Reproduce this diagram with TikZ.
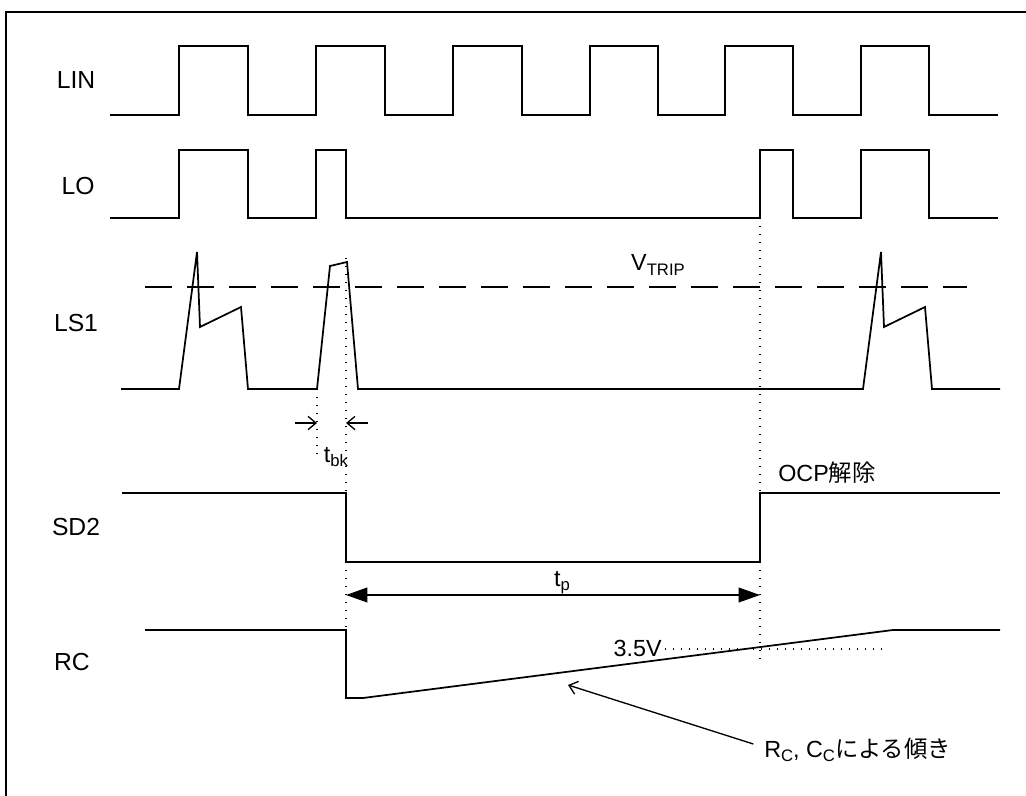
\documentclass[tikz,border=0pt]{standalone}
\usepackage{fontspec}
\setmainfont{Liberation Sans}
\newfontfamily\jpfont{Noto Sans CJK JP}
\usetikzlibrary{arrows.meta}
\newcommand{\jp}[1]{{\jpfont #1}}
\newcommand{\lsub}[1]{\raisebox{-0.35ex}{\fontsize{12.5}{12.5}\selectfont #1}}
\tikzset{
  sig/.style={line width=1.3pt},
  guide/.style={line width=1pt,dash pattern=on 1pt off 5pt},
  lbl/.style={font=\fontsize{17.5}{20}\selectfont,inner sep=0pt},
  signame/.style={font=\fontsize{18.5}{20}\selectfont,inner sep=0pt},
  barb/.style={line width=1pt,-{Straight Barb[length=6pt,width=10pt]}},
}
\begin{document}
\begin{tikzpicture}[x=0.75pt,y=-0.75pt]
\useasboundingbox (0,0) rectangle (1026,796);
\draw [line width=1.8pt] (1026,12) -- (6,12) -- (6,796);
% signal names
\node [signame] (lin) at (76,80) {LIN};
\node [signame] (lo) at (78,186) {LO};
\node [signame] (ls) at (76,323) {LS1};
\node [signame] (sd) at (76,527) {SD2};
\node [signame] (rc) at (72,662) {RC};
% waveforms
\draw [sig] (110,115) -| (179,46) -| (248,115) -| (316,46) -| (385,115) -| (453,46) -| (522,115) -| (590,46) -| (658,115) -| (725,46) -| (793,115) -| (861,46) -| (929,115) -- (998,115);
\draw [sig] (110,218) -| (179,150) -| (248,218) -| (316,150) -| (346,218) -| (760,150) -| (793,218) -| (861,150) -| (929,218) -- (998,218);
\draw [sig] (121,389) -- (179,389) -- (197,252) -- (200,327) -- (241,307) -- (248,389) -- (317,389) -- (330,266) -- (347,262) -- (358,389) -- (863,389) -- (881,252) -- (884,327) -- (925,307) -- (932,389) -- (1000,389);
\draw [line width=1.3pt,dash pattern=on 20.25pt off 11.25pt] (145,287) -- (967,287);
\draw [sig] (122,493) -| (346,562) -| (760,493) -- (1000,493);
\draw [sig] (145,630) -| (346,698) -- (363,698) -- (893,630) -- (1000,630);
% dotted guides
\draw [guide] (346,258) -- (346,493);
\draw [guide] (346,562) -- (346,630);
\draw [guide] (317,389) -- (317,455);
\draw [guide] (760,218) -- (760,663);
\draw [guide] (665,649) -- (882,649);
% timing marks
\coordinate (bkL) at (317,423);
\coordinate (bkR) at (346,423);
\draw [barb] (295,423) -- (bkL);
\draw [barb] (368,423) -- (bkR);
\coordinate (tpL) at (346,595);
\coordinate (tpR) at (760,595);
\draw [line width=1.3pt,{Triangle[length=16pt,width=11pt]}-{Triangle[length=16pt,width=11pt]}] (tpL) -- (tpR);
\node [lbl] (vtrip) at (658,265) {V\lsub{TRIP}};
\node [lbl] (tbk) at (336,457) {t\lsub{bk}};
\node [lbl] (tp) at (562,583) {t\lsub{p}};
\node [lbl,anchor=west] (ocp) at (778,473) {OCP\jp{解除}};
\node [lbl,anchor=east] (vref) at (662,648) {3.5V};
\node [lbl,anchor=west] (note) at (764,750) {R\lsub{C}, C\lsub{C}\jp{による傾き}};
\coordinate (slope) at (568,685);
\draw [barb] ([xshift=-8pt,yshift=4.5pt]note.west) -- (slope);
\end{tikzpicture}
\end{document}
